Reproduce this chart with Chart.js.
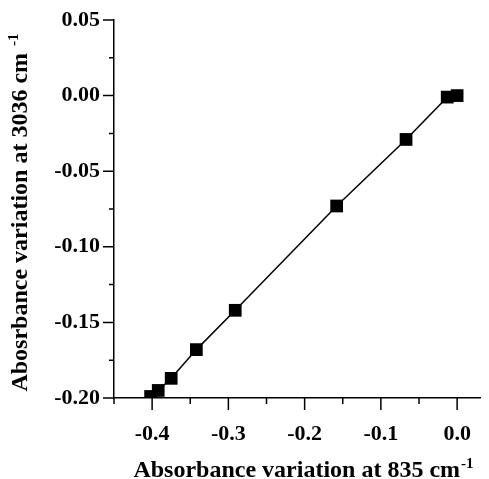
<!DOCTYPE html>
<html lang="en">
<head>
    <meta charset="UTF-8">
    <title>Absorbance variation</title>
    <script src="https://cdn.jsdelivr.net/npm/chart.js"></script>
    <style>
        body { margin: 0; background: #fff; }
    </style>
</head>
<body>
    <canvas id="chart" width="489" height="479"></canvas>

    <script>
        // data
        const absAt835 = [-0.402, -0.392, -0.375, -0.342, -0.291, -0.158, -0.067, -0.013, 0.0];
        const absAt3036 = [-0.199, -0.195, -0.187, -0.168, -0.142, -0.073, -0.029, -0.001, 0.0];

        const xMin = -0.45, xMax = 0.03, xStep = 0.05;
        const yMin = -0.20, yMax = 0.05, yStep = 0.025;

        const xTitle = ["Absorbance variation at 835 cm", "-1"];
        const yTitle = ["Abosrbance variation at 3036 cm ", "-1"];

        const FONT = "'Liberation Serif', 'Times New Roman', serif";

        const isMult = (v, m) => Math.abs(v / m - Math.round(v / m)) < 1e-6;

        // tick marks (long major, short minor) and axis titles with superscripts
        const axisDecor = {
            id: "axisDecor",
            afterDraw(chart) {
                const ctx = chart.ctx;
                const area = chart.chartArea;
                const xs = chart.scales.x, ys = chart.scales.y;
                ctx.save();
                ctx.strokeStyle = "#000";
                ctx.lineWidth = 1.5;
                ctx.beginPath();
                xs.ticks.forEach(t => {
                    if (!isMult(t.value, 0.05)) return;
                    const len = isMult(t.value, 0.1) ? 12 : 6;
                    const px = xs.getPixelForValue(t.value);
                    ctx.moveTo(px, area.bottom);
                    ctx.lineTo(px, area.bottom + len);
                });
                ys.ticks.forEach(t => {
                    if (!isMult(t.value, 0.025)) return;
                    const len = isMult(t.value, 0.05) ? 11 : 5;
                    const py = ys.getPixelForValue(t.value);
                    ctx.moveTo(area.left, py);
                    ctx.lineTo(area.left - len, py);
                });
                ctx.stroke();

                const drawTitle = (parts, cx, cy) => {
                    ctx.font = "bold 24px " + FONT;
                    const w1 = ctx.measureText(parts[0]).width;
                    ctx.font = "bold 15px " + FONT;
                    const w2 = ctx.measureText(parts[1]).width;
                    const start = cx - (w1 + w2) / 2;
                    ctx.fillStyle = "#000";
                    ctx.textBaseline = "alphabetic";
                    ctx.textAlign = "left";
                    ctx.font = "bold 24px " + FONT;
                    ctx.fillText(parts[0], start, cy);
                    ctx.font = "bold 15px " + FONT;
                    ctx.fillText(parts[1], start + w1 + 1, cy - 9);
                };

                drawTitle(xTitle, (area.left + area.right) / 2 + 6, 477);

                ctx.save();
                ctx.translate(27, (area.top + area.bottom) / 2 + 4);
                ctx.rotate(-Math.PI / 2);
                drawTitle(yTitle, 0, 0);
                ctx.restore();

                ctx.restore();
            }
        };

        const points = absAt835.map((x, i) => ({ x: x, y: absAt3036[i] }));

        new Chart(document.getElementById("chart").getContext("2d"), {
            type: "scatter",
            data: {
                datasets: [{
                    data: points,
                    showLine: true,
                    borderColor: "#000",
                    borderWidth: 1.5,
                    pointStyle: "rect",
                    pointRadius: 9,
                    pointBorderWidth: 0,
                    pointBackgroundColor: "#000",
                    clip: 0
                }]
            },
            options: {
                responsive: false,
                animation: false,
                layout: { padding: { top: 20, right: 7, left: 0, bottom: 0 } },
                plugins: {
                    legend: { display: false },
                    tooltip: { enabled: false }
                },
                scales: {
                    x: {
                        type: "linear",
                        position: "bottom",
                        min: xMin,
                        max: xMax,
                        afterFit: s => { s.height = 81; },
                        border: { color: "#000", width: 1.5 },
                        grid: { drawOnChartArea: false, tickLength: 12, tickColor: "rgba(0,0,0,0)" },
                        ticks: {
                            stepSize: xStep,
                            includeBounds: false,
                            autoSkip: false,
                            maxRotation: 0,
                            padding: 11,
                            color: "#000",
                            font: { family: FONT, size: 22, weight: "bold" },
                            callback: v => isMult(v, 0.1) ? v.toFixed(1).replace("-0.0", "0.0") : ""
                        }
                    },
                    y: {
                        type: "linear",
                        min: yMin,
                        max: yMax,
                        afterFit: s => { s.width = 114; },
                        border: { color: "#000", width: 1.5 },
                        grid: { drawOnChartArea: false, tickLength: 11, tickColor: "rgba(0,0,0,0)" },
                        ticks: {
                            stepSize: yStep,
                            includeBounds: false,
                            autoSkip: false,
                            padding: 3,
                            color: "#000",
                            font: { family: FONT, size: 22, weight: "bold" },
                            callback: v => isMult(v, 0.05) ? v.toFixed(2).replace("-0.00", "0.00") : ""
                        }
                    }
                }
            },
            plugins: [axisDecor]
        });
    </script>
</body>
</html>
